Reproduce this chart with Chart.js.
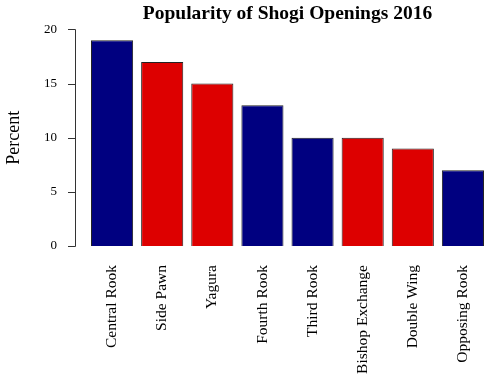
<!DOCTYPE html>
<html>
<head>
<meta charset="utf-8">
<script src="https://cdn.jsdelivr.net/npm/chart.js@4"></script>
<style>
html,body{margin:0;padding:0;background:#fff;}
#wrap{width:500px;height:379px;position:relative;}
</style>
</head>
<body>
<div id="wrap"><canvas id="c" width="500" height="379"></canvas></div>
<script>
const categories = ['Central Rook','Side Pawn','Yagura','Fourth Rook','Third Rook','Bishop Exchange','Double Wing','Opposing Rook'];
const percents = [19, 17, 15, 13, 10, 10, 9, 7];
const groups = ['Ranging','Static','Static','Ranging','Ranging','Static','Static','Ranging'];
const yTicks = [0, 5, 10, 15, 20];

const groupColor = {Ranging: '#000080', Static: '#DD0000'};
const FONT = "'Liberation Serif', 'DejaVu Serif', serif";

const yAxisPlugin = {
  id: 'rAxis',
  afterDraw(chart) {
    const y = chart.scales.y;
    const ctx = chart.ctx;
    const x0 = Math.round(chart.chartArea.left) - 12;
    ctx.save();
    ctx.strokeStyle = '#333';
    ctx.lineWidth = 1;
    ctx.beginPath();
    const top = Math.round(y.getPixelForValue(yTicks[yTicks.length-1])) + 0.5;
    const bot = Math.round(y.getPixelForValue(yTicks[0])) + 0.5;
    ctx.moveTo(x0 + 0.5, top);
    ctx.lineTo(x0 + 0.5, bot);
    yTicks.forEach(v => {
      const py = Math.round(y.getPixelForValue(v)) + 0.5;
      ctx.moveTo(x0 + 0.5, py);
      ctx.lineTo(x0 - 7, py);
    });
    ctx.stroke();
    ctx.restore();
  }
};

new Chart(document.getElementById('c'), {
  type: 'bar',
  data: {
    labels: categories,
    datasets: [{
      data: percents,
      backgroundColor: groups.map(g => groupColor[g]),
      borderColor: '#222',
      borderWidth: 1,
      barPercentage: 0.84,
      categoryPercentage: 1.0
    }]
  },
  options: {
    responsive: false,
    animation: false,
    devicePixelRatio: 1,
    layout: {padding: {left: 3, right: 12, top: 0, bottom: 0}},
    plugins: {
      legend: {display: false},
      tooltip: {enabled: false},
      title: {
        display: true,
        fullSize: false,
        text: 'Popularity of Shogi Openings 2016',
        color: '#000',
        font: {family: FONT, size: 19.5, weight: 'bold'},
        padding: {top: 2, bottom: 4}
      }
    },
    scales: {
      x: {
        grid: {display: false, drawTicks: false},
        border: {display: false},
        ticks: {
          color: '#000',
          font: {family: FONT, size: 15.5},
          minRotation: 90,
          maxRotation: 90,
          padding: 19,
          autoSkip: false
        },
        afterFit(s) { s.height = 133; s.paddingLeft = 0; s.paddingRight = 0; }
      },
      y: {
        min: 0,
        max: 20,
        grid: {display: false, drawTicks: false},
        border: {display: false},
        ticks: {
          stepSize: 5,
          color: '#000',
          font: {family: FONT, size: 13},
          padding: 30
        },
        title: {
          display: true,
          text: 'Percent',
          color: '#000',
          font: {family: FONT, size: 18},
          padding: {top: 0, bottom: 0}
        },
        afterFit(s) { s.width = 84; s.paddingTop = 0; s.paddingBottom = 0; }
      }
    }
  },
  plugins: [yAxisPlugin]
});
</script>
</body>
</html>
